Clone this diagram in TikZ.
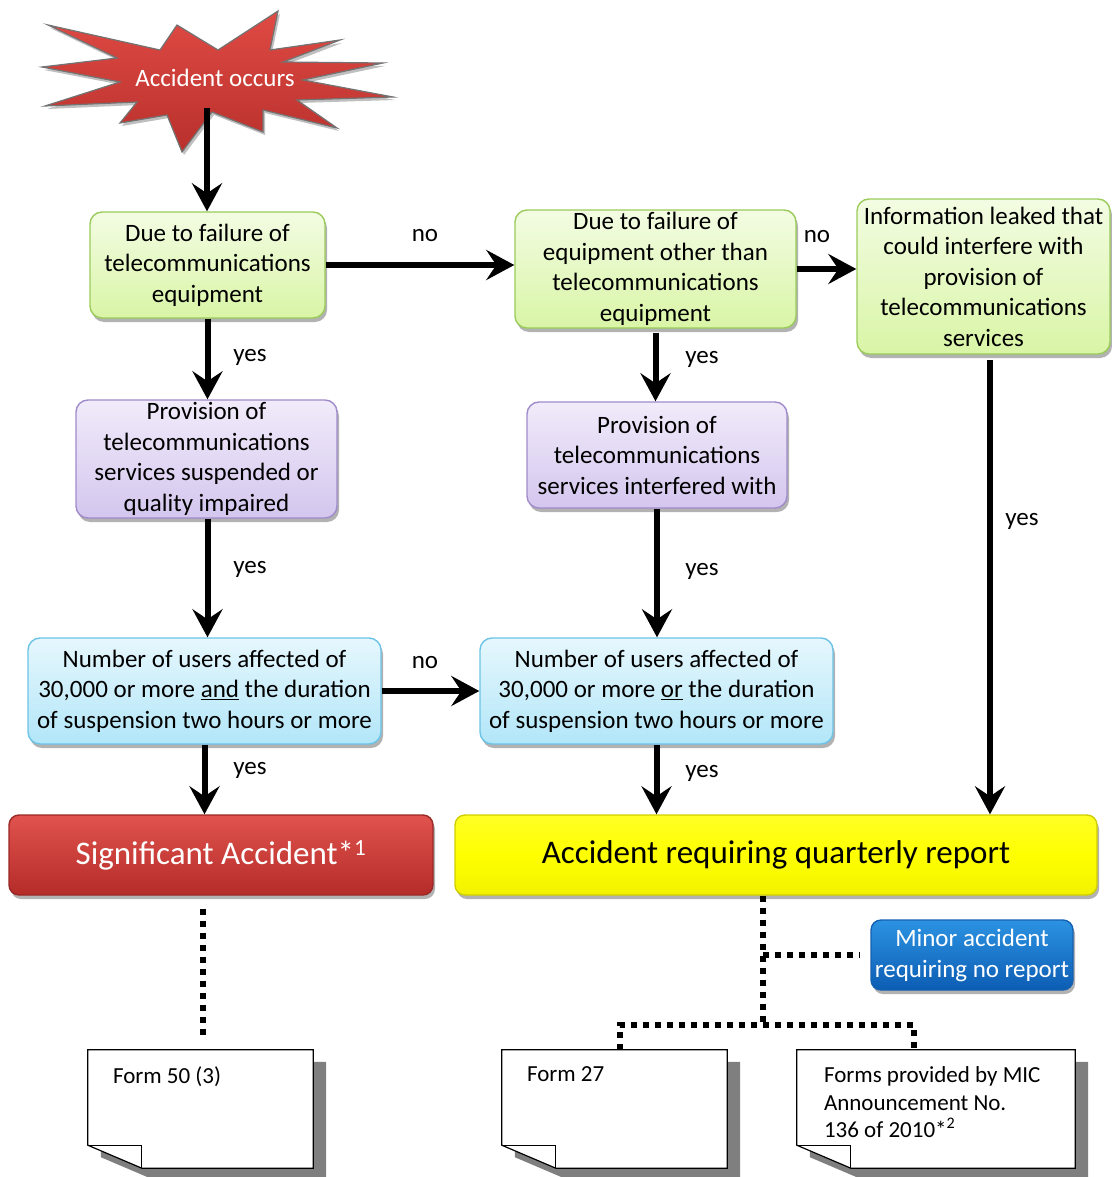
\documentclass[tikz,border=0pt]{standalone}
\usepackage{fontspec}
\setmainfont{Carlito}
\usetikzlibrary{arrows.meta,shadows,calc}
\definecolor{grnB}{HTML}{9BCB5A}
\definecolor{grnT}{HTML}{F3FCE3}
\definecolor{grnM}{HTML}{D9F5A6}
\definecolor{purB}{HTML}{A08BCB}
\definecolor{purT}{HTML}{F1EBFA}
\definecolor{purM}{HTML}{D4C6EE}
\definecolor{bluB}{HTML}{6CC3E6}
\definecolor{bluT}{HTML}{E6F7FD}
\definecolor{bluM}{HTML}{B2E6F8}
\definecolor{redT}{HTML}{E0534E}
\definecolor{redM}{HTML}{B52B28}
\definecolor{redB}{HTML}{9A2826}
\definecolor{yelB}{HTML}{CFCF00}
\definecolor{minT}{HTML}{2C92E2}
\definecolor{minM}{HTML}{0C5DB3}
\definecolor{minB}{HTML}{1560B0}
\definecolor{starT}{HTML}{E04A44}
\definecolor{starM}{HTML}{B8302C}
\definecolor{shd}{HTML}{7F7F7F}
\tikzset{
  box/.style={rounded corners=12pt, line width=1.4pt, inner sep=0pt, align=center,
    font=\fontsize{25}{30.5}\selectfont,
    drop shadow={shadow xshift=2pt, shadow yshift=-4pt, opacity=0.3, fill=black}},
  lowtext/.style={execute at begin node={\rule{0pt}{24pt}}},
  greenbox/.style={box, lowtext, draw=grnB, top color=grnT, bottom color=grnM},
  purplebox/.style={box, lowtext, draw=purB, top color=purT, bottom color=purM},
  bluebox/.style={box, lowtext, draw=bluB, top color=bluT, bottom color=bluM},
  redbox/.style={box, rounded corners=10pt, draw=redB, top color=redT, bottom color=redM, text=white, font=\fontsize{33}{38}\selectfont},
  yellowbox/.style={box, rounded corners=10pt, draw=yelB, top color=yellow!85!white, bottom color=yellow!95!black, middle color=yellow, font=\fontsize{33}{38}\selectfont},
  minorbox/.style={box, rounded corners=10pt, draw=minB, top color=minT, bottom color=minM, text=white, font=\fontsize{25}{31}\selectfont},
  arr/.style={line width=6pt, -{Stealth[length=28pt, width=30pt, inset=10pt]}},
  dots/.style={line width=6pt, dash pattern=on 6pt off 6pt},
  lbl/.style={font=\fontsize{25}{28}\selectfont, inner sep=0pt},
  formarea/.style={minimum width=225pt, minimum height=118pt, inner sep=0pt},
  formtxt/.style={anchor=north west, align=left, inner sep=0pt, font=\fontsize{23}{27.5}\selectfont},
}
\newcommand{\formshape}[1]{%
  \fill[shd] ([shift={(13pt,-12pt)}]#1.north west) -- ([shift={(13pt,-12pt)}]#1.north east) -- ([shift={(13pt,-12pt)}]#1.south east) -- ([shift={(67pt,-12pt)}]#1.south west) -- ([shift={(13pt,11pt)}]#1.south west) -- cycle;
  \draw[line width=1.2pt, fill=white] (#1.north west) -- (#1.north east) -- (#1.south east) -- ([xshift=54pt]#1.south west) -- ([yshift=23pt]#1.south west) -- cycle;
  \draw[line width=1.2pt] ([yshift=23pt]#1.south west) -- ([shift={(54pt,23pt)}]#1.south west) -- ([xshift=54pt]#1.south west);
}
\begin{document}
\begin{tikzpicture}[x=1pt, y=-1pt]
\useasboundingbox (0,0) rectangle (1111,1177);
% starburst
\shade[top color=starT, bottom color=starM, draw=black!55, line width=1.2pt,
  drop shadow={shadow xshift=2pt, shadow yshift=-3pt, opacity=0.25, fill=black}]
  (42,67) -- (117,58) -- (48,25) -- (160,50) -- (177,25) -- (218,50) -- (278,11) -- (270,50)
  -- (340,40) -- (283,62) -- (383,63) -- (303,80) -- (393,97) -- (297,100) -- (337,128)
  -- (263,110) -- (263,132) -- (212,112) -- (182,152) -- (167,115) -- (120,123) -- (137,102)
  -- (45,106) -- (120,82) -- cycle;
\node[text=white, font=\fontsize{25}{28}\selectfont] (acc) at (215,78) {Accident occurs};
\coordinate (starb) at (207,108);

% boxes
\node[greenbox, minimum width=235pt, minimum height=106pt] (g1) at (207.5,265) {Due to failure of\\telecommunications\\equipment};
\node[greenbox, minimum width=281pt, minimum height=118pt] (g2) at (655.5,269) {Due to failure of\\equipment other than\\telecommunications\\equipment};
\node[greenbox, minimum width=253pt, minimum height=155pt] (g3) at (983.5,276.5) {Information leaked that\\could interfere with\\provision of\\telecommunications\\services};
\node[purplebox, minimum width=261pt, minimum height=118pt] (p1) at (206.5,459) {Provision of\\telecommunications\\services suspended or\\quality impaired};
\node[purplebox, minimum width=260pt, minimum height=106pt] (p2) at (657,455) {Provision of\\telecommunications\\services interfered with};
\node[bluebox, minimum width=353pt, minimum height=106pt] (b1) at (204.5,691) {Number of users affected of\\30,000 or more \underline{and} the duration\\of suspension two hours or more};
\node[bluebox, minimum width=353pt, minimum height=106pt] (b2) at (656.5,691) {Number of users affected of\\30,000 or more \underline{or} the duration\\of suspension two hours or more};
\node[redbox, minimum width=424pt, minimum height=80pt] (sig) at (221,855) {Significant Accident*\textsuperscript{1}};
\node[yellowbox, minimum width=642pt, minimum height=80pt] (quart) at (776,855) {Accident requiring quarterly report};
\node[minorbox, minimum width=202pt, minimum height=70pt] (minor) at (972,955) {Minor accident\\requiring no report};

% forms
\node[formarea] (f50) at (200.5,1109) {};
\node[formarea] (f27) at (614.5,1109) {};
\node[formarea, minimum width=278pt] (fmic) at (936,1109) {};
\formshape{f50}
\formshape{f27}
\formshape{fmic}
\node[formtxt] (t50) at ([shift={(25pt,-17pt)}]f50.north west) {Form 50 (3)};
\node[formtxt] (t27) at ([shift={(25pt,-17pt)}]f27.north west) {Form 27};
\node[formtxt] (tmic) at ([shift={(27pt,-17pt)}]fmic.north west) {Forms provided by MIC\\Announcement No.\\136 of 2010*\textsuperscript{2}};

% arrows
\draw[arr] (starb) -- (starb |- g1.north);
\draw[arr] (g1.south) -- (g1.south |- p1.north);
\draw[arr] (g1.east) -- (g1.east -| g2.west);
\draw[arr] (g2.east) -- (g2.east -| g3.west);
\draw[arr] ([yshift=-4pt]g2.south) -- (g2.south |- p2.north);
\draw[arr] (p1.south -| g1.south) -- (g1.south |- b1.north);
\draw[arr] (p2.south) -- (p2.south |- b2.north);
\draw[arr] (b1.east) -- (b1.east -| b2.west);
\draw[arr] (b1.south) -- (b1.south |- sig.north);
\draw[arr] (b2.south) -- (b2.south |- quart.north);
\coordinate (g3b) at (990,360);
\draw[arr] (g3b) -- (g3b |- quart.north);

% labels
\node[lbl] (l1) at (425,236) {no};
\node[lbl] (l2) at (817,237) {no};
\node[lbl] (l3) at (250,357) {yes};
\node[lbl] (l4) at (702,359) {yes};
\node[lbl] (l5) at (250,569) {yes};
\node[lbl] (l6) at (702,571) {yes};
\node[lbl] (l7) at (1022,521) {yes};
\node[lbl] (l8) at (425,663) {no};
\node[lbl] (l9) at (250,770) {yes};
\node[lbl] (l10) at (702,773) {yes};

% dotted connectors
\coordinate (j1) at (763,955);
\coordinate (j2) at (763,1025);
\coordinate (c27) at (620,1050);
\coordinate (cmic) at (914,1050);
\coordinate (c50) at (203,1050);
\draw[dots] ([yshift=-13pt]sig.south -| c50) -- ([yshift=12pt]c50);
\draw[dots] (quart.south -| j1) -- (j2);
\draw[dots] (j1) -- ([xshift=-10pt]minor.west);
\draw[dots] (c27) |- (j2) -| (cmic);
\end{tikzpicture}
\end{document}
